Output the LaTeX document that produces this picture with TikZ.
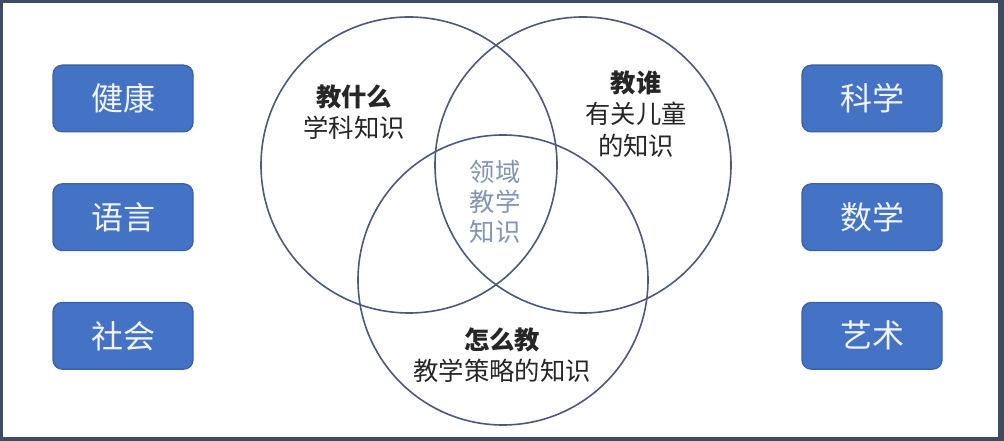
\documentclass[tikz,border=0pt]{standalone}
\usepackage{fontspec}
\newfontfamily\cjk{Noto Sans CJK SC}
\usetikzlibrary{positioning}

\definecolor{frameblue}{HTML}{3D4B63}
\definecolor{boxblue}{HTML}{4472C4}
\definecolor{boxedge}{HTML}{3A62A8}
\definecolor{ringgray}{HTML}{4A5A78}
\definecolor{coretext}{HTML}{8296B2}

\begin{document}
\begin{tikzpicture}[
  x=0.75pt, y=-0.75pt,
  area/.style={draw=boxedge, fill=boxblue, line width=1pt, rounded corners=7pt,
    minimum width=105pt, minimum height=50pt, text=white!92!boxblue,
    font=\cjk\fontsize{24}{28}\selectfont},
  ring/.style={draw=ringgray, line width=1.2pt},
  label/.style={align=center, text=black!85, font=\cjk\fontsize{19}{23.5}\selectfont},
  node distance=38pt
]
  \useasboundingbox (0,0) rectangle (1004,441);
  % frame
  \fill[frameblue] (0,0) rectangle (1004,441);
  \fill[white] (3,3) rectangle (998,437);

  % domains, left
  \node[area] (health) at (123,98.5) {健康};
  \node[area, below=of health] (lang) {语言};
  \node[area, below=of lang] (social) {社会};
  % domains, right
  \node[area] (science) at (872,98.5) {科学};
  \node[area, below=of science] (math) {数学};
  \node[area, below=of math] (art) {艺术};

  % venn
  \draw[ring] (409,165) circle (148);
  \draw[ring] (583,165) circle (148);
  \draw[ring] (503,280) circle (145);

  \node[label] (what) at (354,112) {\textbf{教什么}\\学科知识};
  \node[label] (whom) at (636,114) {\textbf{教谁}\\有关儿童\\的知识};
  \node[label] (how) at (502,355) {\textbf{怎么教}\\教学策略的知识};
  \node[label, text=coretext, font=\cjk\fontsize{19}{22.5}\selectfont] (core) at (495,202) {领域\\教学\\知识};
\end{tikzpicture}
\end{document}
